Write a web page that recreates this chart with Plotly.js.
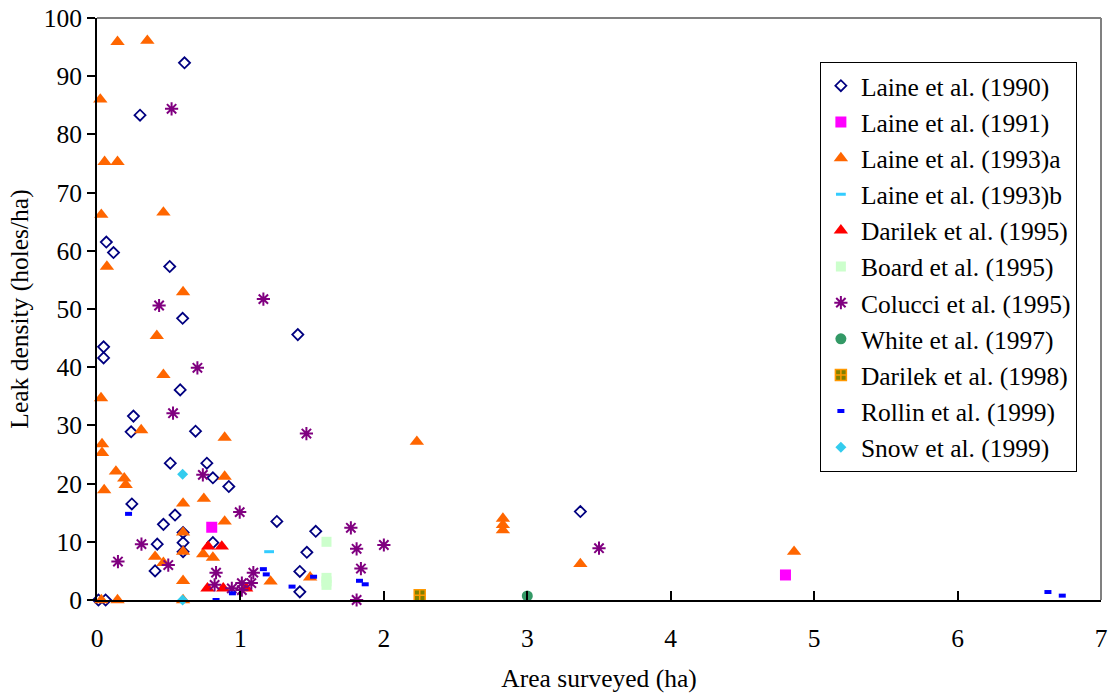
<!DOCTYPE html>
<html>
<head>
<meta charset="utf-8">
<script src="https://cdn.plot.ly/plotly-3.0.1.min.js"></script>
<style>html,body{margin:0;padding:0;background:#fff;}#chart{width:1109px;height:693px;}</style>
</head>
<body>
<div id="chart"></div>
<script>
// ---- Data ----
const seriesNames = ["Laine et al. (1990)","Laine et al. (1991)","Laine et al. (1993)a","Laine et al. (1993)b","Darilek et al. (1995)","Board et al. (1995)","Colucci et al. (1995)","White et al. (1997)","Darilek et al. (1998)","Rollin et al. (1999)","Snow et al. (1999)"];

const laine1990X = [0.61,0.30,0.065,0.115,0.507,0.597,0.046,0.046,0.58,1.40,0.254,0.238,0.687,0.511,0.766,0.808,0.919,0.243,0.544,0.463,1.254,0.42,0.60,0.60,0.60,0.808,0.405,1.525,1.463,1.414,1.414,3.37,0.01,0.06];
const laine1990Y = [92.3,83.3,61.5,59.7,57.3,48.4,43.5,41.6,36.1,45.6,31.6,28.9,29.0,23.5,23.5,21.0,19.5,16.5,14.6,13.0,13.5,9.6,11.6,9.85,8.3,9.85,5.0,11.8,8.2,4.9,1.4,15.2,0,0];

const laine1991X = [0.80,4.80];
const laine1991Y = [12.5,4.3];

const laine1993aX = [0.143,0.351,0.023,0.053,0.143,0.03,0.463,0.069,0.60,0.417,0.463,0.028,0.308,0.89,0.035,0.035,0.132,0.19,0.20,0.89,0.05,0.60,0.745,0.89,0.60,0.60,0.405,0.463,0.74,0.808,0.60,1.21,0.143,0.03,0.60,2.23,1.486,2.83,2.83,2.83,3.37,4.86];
const laine1993aY = [95.9,96.1,86.0,75.3,75.3,66.2,66.6,57.3,52.9,45.4,38.7,34.7,29.2,27.9,26.8,25.3,22.1,20.9,19.8,21.2,18.9,16.6,17.4,13.5,11.6,8.3,7.45,6.4,7.9,7.3,3.3,3.2,0,0,0,27.2,3.9,14.0,12.9,12.0,6.2,8.3];

const laine1993bX = [1.20];
const laine1993bY = [8.3];

const darilek1995X = [0.775,0.87,0.77,0.88,1.04];
const darilek1995Y = [9.2,9.2,2.0,2.0,2.0];

const board1995X = [1.60,1.60,1.60,1.60];
const board1995Y = [10.0,3.8,3.2,2.6];

const colucci1995X = [0.52,0.433,1.16,0.70,0.53,0.738,0.995,0.31,0.146,0.497,0.83,0.82,0.94,1.01,1.01,1.09,1.076,1.46,1.77,1.81,2.0,1.84,1.81,3.50];
const colucci1995Y = [84.4,50.6,51.7,39.9,32.1,21.5,15.1,9.6,6.6,6.0,4.7,2.6,2.0,2.9,1.7,4.7,2.9,28.6,12.4,8.8,9.45,5.4,0,8.9];

const white1997X = [3.0];
const white1997Y = [0.7];

const darilek1998X = [2.25];
const darilek1998Y = [0.8];

const rollin1999X = [0.22,0.83,0.944,1.16,1.18,1.36,1.51,1.83,1.87,6.63,6.73];
const rollin1999Y = [14.8,0,1.15,5.3,4.4,2.3,4.0,3.3,2.7,1.37,0.75];

const snow1999X = [0.597,0.597];
const snow1999Y = [21.6,0];

const xTicks = [0,1,2,3,4,5,6,7];
const yTicks = [0,10,20,30,40,50,60,70,80,90,100];

// ---- Styles ----
const FONT = "Liberation Serif, Times New Roman, serif";
function tr(i, xs, ys, marker){
  return {type:"scatter", mode:"markers", name:seriesNames[i], x:xs, y:ys, marker:marker, cliponaxis:false, hoverinfo:"x+y"};
}
const traces = [
  tr(0, laine1990X, laine1990Y, {symbol:"diamond-open", size:8.5, color:"#000080", line:{width:1.8, color:"#000080"}}),
  tr(1, laine1991X, laine1991Y, {symbol:"square", size:11, color:"#FF00FF", line:{width:0}}),
  tr(2, laine1993aX, laine1993aY, {symbol:"triangle-up", size:12.5, color:"#FF6600", line:{width:0}}),
  tr(3, laine1993bX, laine1993bY, {symbol:"line-ew-open", size:7, color:"#33CCFF", line:{width:3, color:"#33CCFF"}}),
  tr(4, darilek1995X, darilek1995Y, {symbol:"triangle-up", size:12.5, color:"#FF0000", line:{width:0}}),
  tr(5, board1995X, board1995Y, {symbol:"square", size:10, color:"#CCFFCC", line:{width:0}}),
  tr(6, colucci1995X, colucci1995Y, {symbol:"asterisk-open", size:11, color:"#800080", line:{width:2, color:"#800080"}}),
  tr(7, white1997X, white1997Y, {symbol:"circle", size:11, color:"#339966", line:{width:0}}),
  tr(8, darilek1998X, darilek1998Y, {symbol:"square-cross", size:11, color:"#808000", line:{width:1.5, color:"#FF9900"}}),
  tr(9, rollin1999X, rollin1999Y, {symbol:"line-ew-open", size:5, color:"#0000FF", line:{width:4, color:"#0000FF"}}),
  tr(10, snow1999X, snow1999Y, {symbol:"diamond", size:8.5, color:"#33CCEE", line:{width:0}})
];

const layout = {
  width:1109, height:693,
  margin:{l:97, r:8, t:18, b:93, pad:0},
  paper_bgcolor:"#ffffff", plot_bgcolor:"#ffffff",
  font:{family:FONT, size:25.5, color:"#000000"},
  showlegend:true,
  legend:{x:0.72, y:0.925, xanchor:"left", yanchor:"top", bgcolor:"#ffffff", bordercolor:"#000000", borderwidth:1, font:{family:FONT, size:25.5, color:"#000"}},
  xaxis:{range:[0,7], tickvals:xTicks, ticktext:xTicks.map(String), showgrid:false, zeroline:false, showline:true, linecolor:"#000", linewidth:2,
         ticks:"inside", ticklen:9, tickwidth:2, tickcolor:"#000", ticklabelstandoff:14, ticklabeloverflow:"allow",
         tickfont:{family:FONT, size:25.5, color:"#000"},
         title:{text:"Area surveyed (ha)", font:{family:FONT, size:25.5, color:"#000"}, standoff:19}},
  yaxis:{range:[0,100], tickvals:yTicks, ticktext:yTicks.map(String), showgrid:false, zeroline:false, showline:true, linecolor:"#000", linewidth:2,
         ticks:"outside", ticklen:8, tickwidth:2, tickcolor:"#000",
         tickfont:{family:FONT, size:25.5, color:"#000"},
         title:{text:"Leak density (holes/ha)", font:{family:FONT, size:25.5, color:"#000"}, standoff:8}},
  shapes:[
    {type:"line", xref:"paper", yref:"paper", x0:0, x1:1, y0:1, y1:1, line:{color:"#808080", width:2}},
    {type:"line", xref:"paper", yref:"paper", x0:1, x1:1, y0:0, y1:1, line:{color:"#808080", width:2}}
  ]
};

Plotly.newPlot("chart", traces, layout, {displayModeBar:false, staticPlot:true});
</script>
</body>
</html>
